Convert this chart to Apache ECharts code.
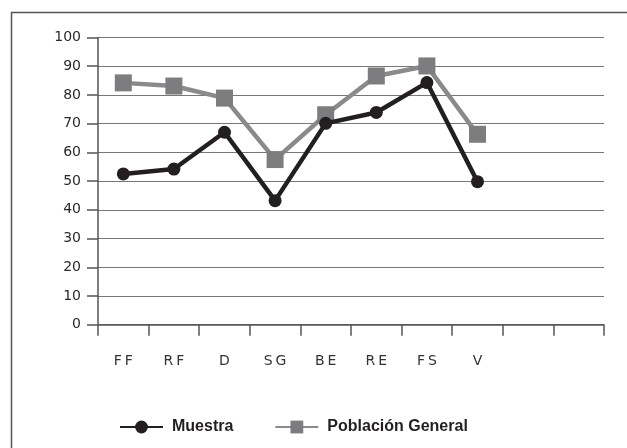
<!DOCTYPE html>
<html>
<head>
<meta charset="utf-8">
<script src="https://cdn.jsdelivr.net/npm/echarts@6/dist/echarts.min.js"></script>
<style>
  html, body { margin: 0; padding: 0; background: #fff; }
  #chart { width: 627px; height: 448px; }
</style>
</head>
<body>
<div id="chart"></div>
<script>
// categorias (las dos ultimas vacias, como en el original)
let categorias = ["FF", "RF", "D", "SG", "BE", "RE", "FS", "V", "", ""];
let muestra = [52.5, 54.2, 67, 43.2, 70.1, 73.9, 84.3, 49.8];
let poblacionGeneral = [84.2, 83.1, 78.9, 57.5, 73.1, 86.6, 90.1, 66.3];
let yTicks = [0, 10, 20, 30, 40, 50, 60, 70, 80, 90, 100];

let chart = echarts.init(document.getElementById("chart"));

let option = {
    animation: false,
    textStyle: { fontFamily: "DejaVu Sans" },
    graphic: [{
        type: "rect",
        shape: { x: 11.5, y: 12.5, width: 700, height: 500 },
        style: { fill: "none", stroke: "#555", lineWidth: 1.5 },
        silent: true
    }],
    legend: {
        data: ["Muestra", "Población General"],
        left: 114,
        top: 414,
        itemWidth: 43,
        itemHeight: 16,
        itemGap: 41,
        textStyle: {
            fontFamily: "Liberation Sans",
            fontWeight: "bold",
            fontSize: 16,
            color: "#231f20",
            padding: [0, 0, 0, 4]
        }
    },
    grid: {
        left: 98,
        right: 23,
        top: 37.5,
        bottom: 123.3
    },
    xAxis: {
        type: "category",
        data: categorias,
        boundaryGap: true,
        axisLine: { show: true, lineStyle: { color: "#555", width: 1.5 } },
        axisTick: { show: true, length: 11, lineStyle: { color: "#555", width: 1.5 } },
        axisLabel: {
            margin: 30,
            fontSize: 14,
            color: "#333",
            fontFamily: "DejaVu Sans",
            formatter: function (value) {
                return value.split("").join("\u2009");
            }
        },
        splitLine: { show: false }
    },
    yAxis: {
        type: "value",
        min: yTicks[0],
        max: yTicks[yTicks.length - 1],
        interval: 10,
        axisLine: { show: true, lineStyle: { color: "#555", width: 1.5 } },
        axisTick: { show: true, length: 11, lineStyle: { color: "#555", width: 1.5 } },
        axisLabel: { margin: 17, fontSize: 14, color: "#2a2a2a" },
        splitLine: { show: true, lineStyle: { color: "#777", width: 1.2 } }
    },
    series: [
        {
            name: "Población General",
            type: "line",
            data: poblacionGeneral,
            symbol: "rect",
            symbolSize: 17,
            z: 2,
            lineStyle: { color: "#8a8a8c", width: 4.5 },
            itemStyle: { color: "#7d7d80" }
        },
        {
            name: "Muestra",
            type: "line",
            data: muestra,
            symbol: "circle",
            symbolSize: 13,
            z: 3,
            lineStyle: { color: "#231f20", width: 4.5 },
            itemStyle: { color: "#231f20" }
        }
    ]
};
chart.setOption(option, true);
</script>
</body>
</html>
